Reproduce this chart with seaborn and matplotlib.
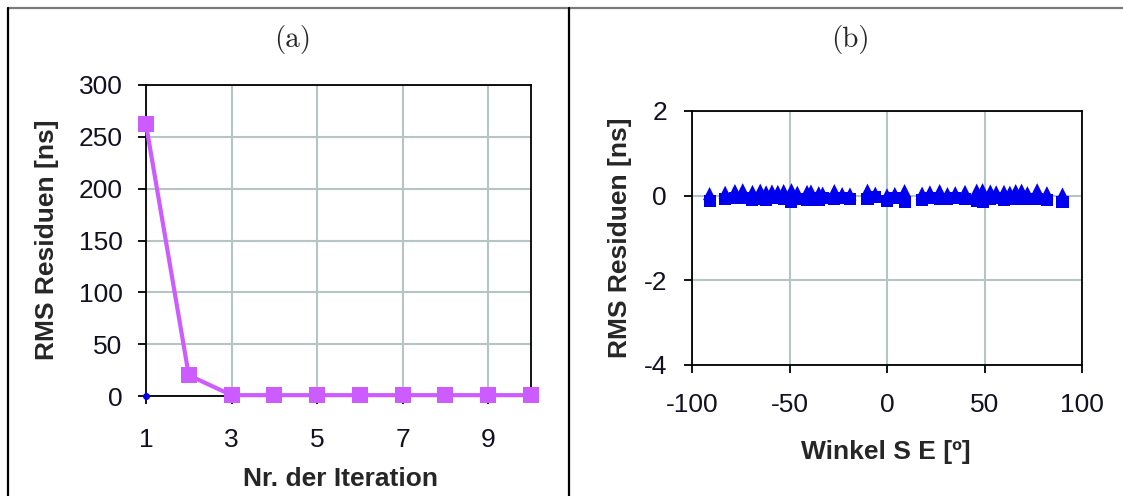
import numpy as np
import pandas as pd
import matplotlib
matplotlib.use("Agg")
import matplotlib.pyplot as plt
from matplotlib.lines import Line2D
import seaborn as sns

# ---------------- data ----------------
iterations = [1, 2, 3, 4, 5, 6, 7, 8, 9, 10]
rms_iter = [262, 20, 0.8, 0.8, 0.8, 0.8, 0.8, 0.8, 0.8, 0.8]
start_x = [1]
start_y = [0]

angles = [-91, -83, -78, -74, -69, -65, -62, -59, -56, -53, -49, -46, -41, -39,
          -35, -33, -27, -23, -19, -10, -6, 0, 4, 9, 18, 22, 27, 31, 35, 40, 46,
          49, 53, 56, 60, 63, 66, 69, 72, 77, 82, 90]
res_tri = [0.05, 0.08, 0.12, 0.14, 0.10, 0.13, 0.09, 0.11, 0.10, 0.12, 0.14,
           0.08, 0.10, 0.11, 0.07, 0.06, 0.12, 0.05, 0.04, 0.13, 0.06, 0.02,
           0.05, 0.12, 0.06, 0.09, 0.12, 0.05, 0.07, 0.10, 0.13, 0.14, 0.11,
           0.09, 0.10, 0.08, 0.12, 0.13, 0.07, 0.14, 0.07, 0.04]
res_sq = [-0.12, -0.08, -0.06, -0.05, -0.10, -0.07, -0.11, -0.06, -0.05, -0.08,
          -0.14, -0.07, -0.10, -0.05, -0.11, -0.06, -0.09, -0.05, -0.08, -0.07,
          -0.04, -0.12, -0.05, -0.15, -0.11, -0.06, -0.07, -0.09, -0.06, -0.08,
          -0.12, -0.14, -0.07, -0.06, -0.10, -0.05, -0.09, -0.06, -0.08, -0.07,
          -0.10, -0.14]

df_iter = pd.DataFrame({"iter": iterations, "rms": rms_iter})
df_res = pd.DataFrame({"angle": angles, "tri": res_tri, "sq": res_sq})

# ---------------- style ----------------
sns.set_style("white")
plt.rcParams["font.family"] = ["Liberation Sans", "DejaVu Sans"]
plt.rcParams["axes.unicode_minus"] = False

W, H = 1123, 496
fig = plt.figure(figsize=(W / 100, H / 100), dpi=100)

def ax_rect(l, t, r, b):
    return [l / W, 1 - b / H, (r - l) / W, (b - t) / H]

grid_col = "#b6c4c4"
FS = 19

axL = fig.add_axes(ax_rect(146, 85, 531, 396))
axR = fig.add_axes(ax_rect(692, 111, 1082, 365))

# ---------- left panel ----------
sns.lineplot(data=df_iter, x="iter", y="rms", ax=axL, color="#cc5cff",
             linewidth=3.0, marker="s", markersize=12, markeredgewidth=0,
             clip_on=False, zorder=5)
axL.plot(start_x, start_y, marker="o", color="#0000ee", markersize=4,
         linestyle="none", clip_on=False, zorder=6)
axL.set_xlim(1, 10)
axL.set_ylim(0, 300)
axL.set_xticks([1, 3, 5, 7, 9])
axL.set_yticks(np.arange(0, 301, 50))
axL.grid(True, color=grid_col, linewidth=1.5)
axL.set_axisbelow(True)
axL.tick_params(axis="both", direction="out", length=6, width=1.3,
                color="black", labelsize=FS, labelcolor="#111122",
                bottom=True, left=True)
axL.tick_params(axis="x", pad=17)
axL.tick_params(axis="y", pad=11)
axL.set_xlabel("Nr. der Iteration", fontsize=FS, fontweight="bold")
axL.set_ylabel("RMS Residuen [ns]", fontsize=FS, fontweight="bold")
axL.xaxis.label.set_va("center")
axL.yaxis.label.set_va("center")
axL.xaxis.set_label_coords(0.504, -0.267)
axL.yaxis.set_label_coords(-0.257, 0.502)

# ---------- right panel ----------
sns.scatterplot(data=df_res, x="angle", y="sq", ax=axR, marker="s", s=75,
                color="#0000ee", edgecolor="none", zorder=5)
sns.scatterplot(data=df_res, x="angle", y="tri", ax=axR, marker="^", s=90,
                color="#0000ee", edgecolor="none", zorder=5)
axR.set_xlim(-100, 100)
axR.set_ylim(-4, 2)
axR.set_xticks([-100, -50, 0, 50, 100])
axR.set_yticks([-4, -2, 0, 2])
axR.grid(True, color=grid_col, linewidth=1.5)
axR.set_axisbelow(True)
axR.tick_params(axis="both", direction="out", length=6, width=1.3,
                color="black", labelsize=FS, labelcolor="#111122",
                bottom=True, left=True)
axR.tick_params(axis="x", pad=14)
axR.tick_params(axis="y", pad=12)
axR.set_xlabel("Winkel S E [º]", fontsize=FS, fontweight="bold")
axR.set_ylabel("RMS Residuen [ns]", fontsize=FS, fontweight="bold")
axR.xaxis.label.set_va("center")
axR.yaxis.label.set_va("center")
axR.xaxis.set_label_coords(0.497, -0.343)
axR.yaxis.set_label_coords(-0.185, 0.5)

for ax in (axL, axR):
    for sp in ax.spines.values():
        sp.set_visible(True)
        sp.set_color("black")
        sp.set_linewidth(1.3)

# ---------- panel titles ----------
fig.text(293 / W, 1 - 40 / H, "(a)", ha="center", va="center",
         fontsize=21, family="cmr10")
fig.text(850 / W, 1 - 40 / H, "(b)", ha="center", va="center",
         fontsize=21, family="cmr10")

# ---------- table borders ----------
fig.add_artist(Line2D([8 / W, 1.0], [1 - 8 / H, 1 - 8 / H],
                      transform=fig.transFigure, color="#7a7a7a", linewidth=1.6))
fig.add_artist(Line2D([8 / W, 8 / W], [0, 1 - 8 / H],
                      transform=fig.transFigure, color="black", linewidth=1.6))
fig.add_artist(Line2D([569 / W, 569 / W], [0, 1 - 8 / H],
                      transform=fig.transFigure, color="black", linewidth=1.6))

fig.savefig("out.png", dpi=100)
